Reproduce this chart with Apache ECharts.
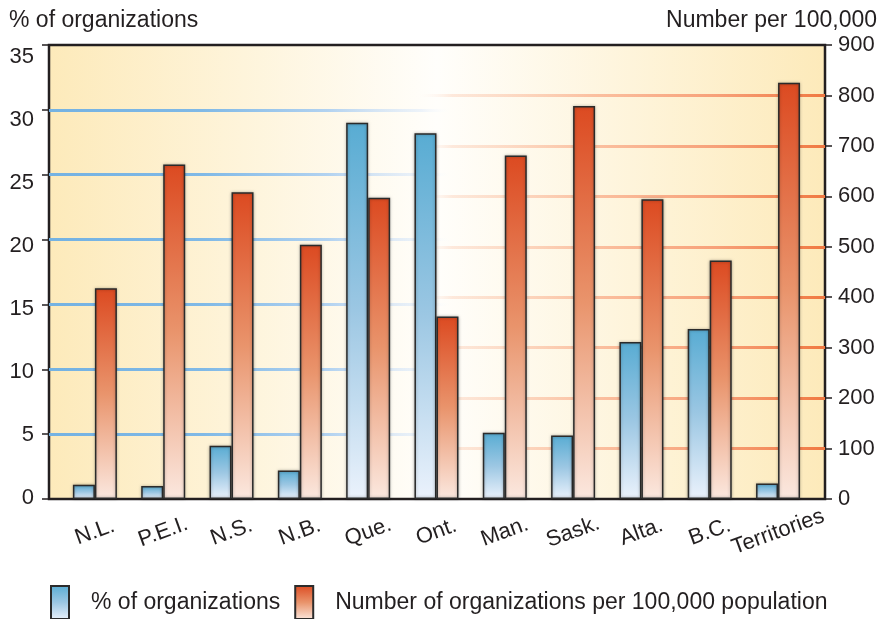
<!DOCTYPE html>
<html>
<head>
<meta charset="utf-8">
<script src="https://cdn.jsdelivr.net/npm/echarts@6/dist/echarts.min.js"></script>
<style>
html,body{margin:0;padding:0;background:#fff;}
#chart{width:880px;height:619px;}
</style>
</head>
<body>
<div id="chart"></div>
<script>
// ---- data ----
var categories = ['N.L.', 'P.E.I.', 'N.S.', 'N.B.', 'Que.', 'Ont.', 'Man.', 'Sask.', 'Alta.', 'B.C.', 'Territories'];
var pctOrganizations = [1.1, 1.0, 4.1, 2.2, 29.0, 28.2, 5.1, 4.9, 12.1, 13.1, 1.2];
var perHundredThousand = [418, 663, 608, 504, 597, 362, 681, 779, 594, 473, 825];
var leftTicks = [0, 5, 10, 15, 20, 25, 30, 35];
var rightTicks = [0, 100, 200, 300, 400, 500, 600, 700, 800, 900];
var seriesNames = ['% of organizations', 'Number of organizations per 100,000 population'];
var leftAxisTitle = '% of organizations';
var rightAxisTitle = 'Number per 100,000';

var FONT = '"Liberation Sans", Arial, Helvetica, sans-serif';
var FS = 22;
var FS_T = 23;
var TXT = '#231f20';
var G = echarts.graphic.LinearGradient;

var chart = echarts.init(document.getElementById('chart'), null, {renderer: 'canvas'});

var option = {
  animation: false,
  textStyle: {fontFamily: FONT, color: TXT},
  graphic: [
    {type: 'text', left: 9, top: 9, style: {text: leftAxisTitle, font: FS_T + 'px ' + FONT, fill: TXT}},
    {type: 'text', right: 3, top: 9, style: {text: rightAxisTitle, font: FS_T + 'px ' + FONT, fill: TXT}}
  ],
  legend: {
    left: 50, top: 585, padding: 0,
    icon: 'rect',
    itemWidth: 18, itemHeight: 33, itemGap: 14,
    textStyle: {fontSize: FS_T, fontFamily: FONT, color: TXT, padding: [0, 0, 0, 17]},
    data: seriesNames
  },
  grid: [
    {
      left: 49, right: 55, top: 45, bottom: 120,
      show: true,
      backgroundColor: new G(0, 0, 1, 0, [
        {offset: 0, color: '#fdeaba'},
        {offset: 0.5, color: '#fffefb'},
        {offset: 1, color: '#fdeaba'}
      ]),
      borderColor: '#231f20', borderWidth: 2.5
    },
    {left: 60.75, right: 67.8, top: 45, bottom: 120}
  ],
  xAxis: [
    {gridIndex: 0, type: 'value', min: 0, max: 1, show: false},
    {
      gridIndex: 1, type: 'category', data: categories, boundaryGap: true,
      axisLine: {show: false}, axisTick: {show: false},
      axisLabel: {
        rotate: 20, interval: 0, margin: 33, align: 'center', verticalAlign: 'middle',
        fontSize: FS, fontFamily: FONT, color: TXT
      }
    }
  ],
  yAxis: [
    {
      gridIndex: 0, type: 'value', position: 'left', min: 0, max: 35, interval: 5,
      axisLine: {show: false},
      axisTick: {show: true, length: 7, lineStyle: {color: '#231f20', width: 1.5}},
      axisLabel: {show: false},
      splitLine: {
        show: true, showMinLine: false, showMaxLine: false,
        lineStyle: {
          width: 3,
          color: new G(0, 0, 1, 0, [
            {offset: 0, color: '#74b2e2'},
            {offset: 0.2, color: '#80b9e6'},
            {offset: 0.36, color: '#b2d2f0'},
            {offset: 0.48, color: 'rgba(215,230,250,0.45)'},
            {offset: 0.52, color: 'rgba(255,255,255,0)'},
            {offset: 1, color: 'rgba(255,255,255,0)'}
          ])
        }
      }
    },
    {
      gridIndex: 0, type: 'value', position: 'right', min: 0, max: 900, interval: 100,
      axisLine: {show: false},
      axisTick: {show: true, length: 7, lineStyle: {color: '#231f20', width: 1.5}},
      axisLabel: {margin: 13, fontSize: FS, fontFamily: FONT, color: TXT, customValues: rightTicks},
      splitLine: {
        show: true, showMinLine: false, showMaxLine: false,
        lineStyle: {
          width: 3,
          color: new G(0, 0, 1, 0, [
            {offset: 0, color: 'rgba(255,255,255,0)'},
            {offset: 0.47, color: 'rgba(255,255,255,0)'},
            {offset: 0.52, color: 'rgba(252,212,190,0.5)'},
            {offset: 0.7, color: '#fbc0a0'},
            {offset: 0.86, color: '#f7a078'},
            {offset: 1, color: '#f07841'}
          ])
        }
      }
    },
    {gridIndex: 1, type: 'value', min: 0, max: 35, show: false},
    {gridIndex: 1, type: 'value', min: 0, max: 900, show: false},
    {
      // label-only axis for the left scale
      gridIndex: 0, type: 'value', position: 'left', min: -0.12, max: 35.95,
      axisLine: {show: false}, axisTick: {show: false}, splitLine: {show: false},
      axisLabel: {margin: 15, fontSize: FS, fontFamily: FONT, color: TXT, customValues: leftTicks}
    }
  ],
  series: [
    {
      name: seriesNames[0], type: 'bar', xAxisIndex: 1, yAxisIndex: 2,
      data: pctOrganizations, barWidth: 22, barGap: '0%',
      itemStyle: {
        color: new G(0, 0, 0, 1, [
          {offset: 0, color: '#58acd3'},
          {offset: 0.5, color: '#9cc7e3'},
          {offset: 1, color: '#ebf2fc'}
        ]),
        borderColor: '#2b2b2b', borderWidth: 1.5,
        shadowBlur: 3, shadowColor: 'rgba(0,0,0,0.3)'
      }
    },
    {
      name: seriesNames[1], type: 'bar', xAxisIndex: 1, yAxisIndex: 3,
      data: perHundredThousand, barWidth: 22, barGap: '0%',
      itemStyle: {
        color: new G(0, 0, 0, 1, [
          {offset: 0, color: '#dc4a21'},
          {offset: 0.5, color: '#e9946c'},
          {offset: 1, color: '#fbe8df'}
        ]),
        borderColor: '#2b2b2b', borderWidth: 1.5,
        shadowBlur: 3, shadowColor: 'rgba(0,0,0,0.3)'
      }
    }
  ]
};
chart.setOption(option);
</script>
</body>
</html>
